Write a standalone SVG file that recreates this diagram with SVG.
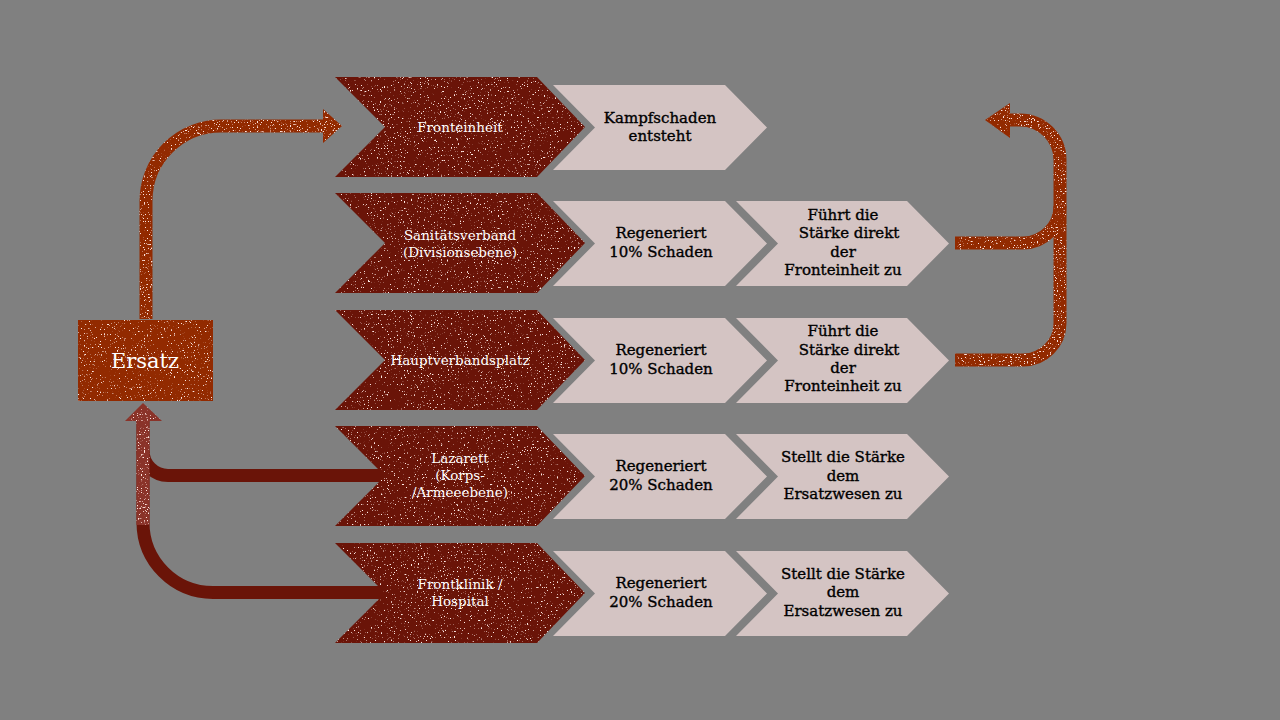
<svg xmlns="http://www.w3.org/2000/svg" width="1280" height="720" viewBox="0 0 1280 720">
<defs>
<filter id="grunge" x="0%" y="0%" width="100%" height="100%" color-interpolation-filters="sRGB">
<feTurbulence type="fractalNoise" baseFrequency="0.7" numOctaves="3" seed="7" result="noise"/>
<feColorMatrix in="noise" type="matrix" values="0 0 0 0 1  0 0 0 0 0.92  0 0 0 0 0.9  10 0 0 0 -6.6" result="spk"/>
<feComposite in="spk" in2="SourceAlpha" operator="in" result="spk2"/>
<feMerge><feMergeNode in="SourceGraphic"/><feMergeNode in="spk2"/></feMerge>
</filter>
<filter id="grungeL" filterUnits="userSpaceOnUse" x="0" y="0" width="1280" height="720" color-interpolation-filters="sRGB">
<feTurbulence type="fractalNoise" baseFrequency="0.7" numOctaves="3" seed="11" result="noise"/>
<feColorMatrix in="noise" type="matrix" values="0 0 0 0 1  0 0 0 0 0.9  0 0 0 0 0.88  10 0 0 0 -6.4" result="spk"/>
<feComposite in="spk" in2="SourceAlpha" operator="in" result="spk2"/>
<feMerge><feMergeNode in="SourceGraphic"/><feMergeNode in="spk2"/></feMerge>
</filter>
<style>
.dark{fill:#6a1408;filter:url(#grunge)}
.light{fill:#d4c4c3}
.box{fill:#922a00;filter:url(#grunge)}
.wt{fill:#ffffff;font-family:"DejaVu Serif","Liberation Serif",serif;font-size:13.5px;text-anchor:middle}
.bt{fill:#000000;stroke:#000000;stroke-width:0.35;font-family:"DejaVu Serif","Liberation Serif",serif;font-size:15px;text-anchor:middle}
.big{fill:#ffffff;font-family:"DejaVu Serif","Liberation Serif",serif;font-size:21px;text-anchor:middle}
.ln{fill:none;stroke-width:13}
</style>
</defs>
<rect x="0" y="0" width="1280" height="720" fill="#808080"/>

<g id="connectors">
  <g filter="url(#grungeL)">
    <path class="ln" stroke="#922a00" d="M146,319 V201 A75,75 0 0 1 221,126 H326"/>
    <polygon fill="#922a00" points="323,109 342,126 323,143"/>
  </g>
  <path class="ln" stroke="#6a1408" d="M390,592.5 H213 A70,70 0 0 1 143,522.5 V420"/>
  <path class="ln" stroke="#6a1408" d="M390,475.5 H168 A25,25 0 0 1 143,450.5"/>
  <g filter="url(#grungeL)">
    <path class="ln" stroke="#8a3329" d="M143,525 V418"/>
    <polygon fill="#8a3329" points="125,421 143,403 162,421"/>
  </g>
  <g filter="url(#grungeL)">
    <path class="ln" stroke="#922a00" stroke-width="14" d="M955,243 H1023 A37,37 0 0 0 1060,206"/>
    <path class="ln" stroke="#922a00" stroke-width="14" d="M955,360 H1023 A37,37 0 0 0 1060,323 V160 A40,40 0 0 0 1020,120 H1007"/>
    <polygon fill="#922a00" points="1010,103 985,120 1010,138"/>
  </g>
</g>

<g id="ersatz">
  <rect class="box" x="78" y="320" width="135" height="81"/>
  <text class="big" x="145" y="368">Ersatz</text>
</g>

<g id="fronteinheit">
  <polygon class="dark" points="335,77 537,77 585,127 537,177 335,177 385,127"/>
  <text class="wt" x="460" y="132">Fronteinheit</text>
</g>
<g id="kampfschaden">
  <polygon class="light" points="553,85 725,85 767,127.5 725,170 553,170 595,127.5"/>
  <text class="bt" x="660" y="123">Kampfschaden</text>
  <text class="bt" x="660" y="141">entsteht</text>
</g>

<g id="sanitaetsverband">
  <polygon class="dark" points="335,193 537,193 585,243 537,293 335,293 385,243"/>
  <text class="wt" x="460" y="240">Sanitätsverband</text>
  <text class="wt" x="460" y="257">(Divisionsebene)</text>
</g>
<g id="regen-2">
  <polygon class="light" points="553,201 725,201 767,243.5 725,286 553,286 595,243.5"/>
  <text class="bt" x="661" y="238">Regeneriert</text>
  <text class="bt" x="661" y="257">10% Schaden</text>
</g>
<g id="fuehrt-2">
  <polygon class="light" points="736,201 907,201 949,243.5 907,286 736,286 778,243.5"/>
  <text class="bt" x="843" y="220">Führt die</text>
  <text class="bt" x="849" y="238">Stärke direkt</text>
  <text class="bt" x="843" y="257">der</text>
  <text class="bt" x="843" y="275">Fronteinheit zu</text>
</g>

<g id="hauptverbandsplatz">
  <polygon class="dark" points="335,310 537,310 585,360 537,410 335,410 385,360"/>
  <text class="wt" x="460" y="365">Hauptverbandsplatz</text>
</g>
<g id="regen-3">
  <polygon class="light" points="553,318 725,318 767,360.5 725,403 553,403 595,360.5"/>
  <text class="bt" x="661" y="355">Regeneriert</text>
  <text class="bt" x="661" y="374">10% Schaden</text>
</g>
<g id="fuehrt-3">
  <polygon class="light" points="736,318 907,318 949,360.5 907,403 736,403 778,360.5"/>
  <text class="bt" x="843" y="336">Führt die</text>
  <text class="bt" x="849" y="355">Stärke direkt</text>
  <text class="bt" x="843" y="373">der</text>
  <text class="bt" x="843" y="391">Fronteinheit zu</text>
</g>

<g id="lazarett">
  <polygon class="dark" points="335,426 537,426 585,476 537,526 335,526 385,476"/>
  <text class="wt" x="460" y="463">Lazarett</text>
  <text class="wt" x="460" y="480">(Korps-</text>
  <text class="wt" x="460" y="497">/Armeeebene)</text>
</g>
<g id="regen-4">
  <polygon class="light" points="553,434 725,434 767,476.5 725,519 553,519 595,476.5"/>
  <text class="bt" x="661" y="471">Regeneriert</text>
  <text class="bt" x="661" y="490">20% Schaden</text>
</g>
<g id="stellt-4">
  <polygon class="light" points="736,434 907,434 949,476.5 907,519 736,519 778,476.5"/>
  <text class="bt" x="843" y="462">Stellt die Stärke</text>
  <text class="bt" x="843" y="481">dem</text>
  <text class="bt" x="843" y="499">Ersatzwesen zu</text>
</g>

<g id="frontklinik">
  <polygon class="dark" points="335,543 537,543 585,593 537,643 335,643 385,593"/>
  <text class="wt" x="460" y="589">Frontklinik  /</text>
  <text class="wt" x="460" y="606">Hospital</text>
</g>
<g id="regen-5">
  <polygon class="light" points="553,551 725,551 767,593.5 725,636 553,636 595,593.5"/>
  <text class="bt" x="661" y="588">Regeneriert</text>
  <text class="bt" x="661" y="607">20% Schaden</text>
</g>
<g id="stellt-5">
  <polygon class="light" points="736,551 907,551 949,593.5 907,636 736,636 778,593.5"/>
  <text class="bt" x="843" y="579">Stellt die Stärke</text>
  <text class="bt" x="843" y="597">dem</text>
  <text class="bt" x="843" y="616">Ersatzwesen zu</text>
</g>
</svg>
